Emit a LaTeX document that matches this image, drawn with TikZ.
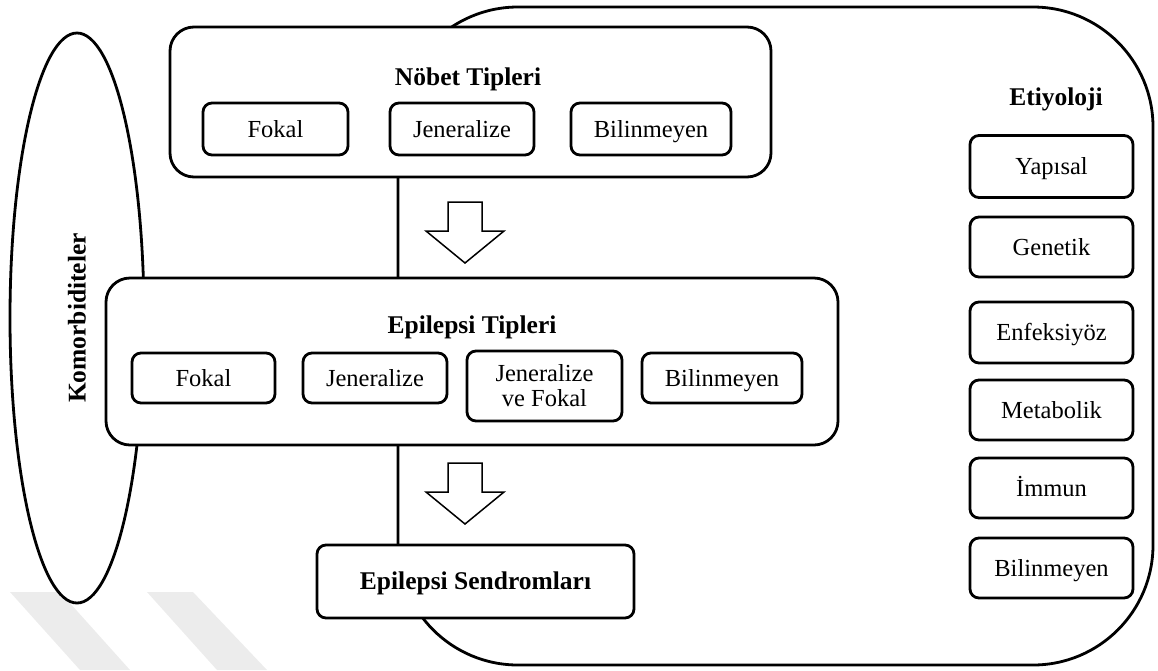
\documentclass[tikz,border=0pt]{standalone}
\usepackage{fontspec}
\setmainfont{Liberation Serif}
\usetikzlibrary{shapes.geometric}
\newcommand{\bodysize}{\fontsize{24.5}{25}\selectfont}
\newcommand{\ttlsize}{\fontsize{25.5}{27}\selectfont}
\begin{document}
\begin{tikzpicture}[x=1pt,y=-1pt,
  inbox/.style={draw, line width=2.8pt, rounded corners=9pt, fill=white, inner sep=0pt, align=center, font=\bodysize, text height=16pt, text depth=0pt},
  twobox/.style={draw, line width=2.8pt, rounded corners=9pt, fill=white, inner sep=0pt, align=center, font=\bodysize},
  groupbox/.style={draw, line width=2.8pt, rounded corners=24pt, fill=white, inner sep=0pt},
  ttl/.style={font=\ttlsize\bfseries, inner sep=0pt, text height=17pt, text depth=0pt},
  faintband/.style={fill=gray!15, draw=none},
  blockarrow/.pic={\draw[line width=1.5pt, fill=white, line join=miter]
     (-17,0) -- (17,0) -- (17,29) -- (39,29) -- (0,61) -- (-39,29) -- (-17,29) -- cycle;}
]
\useasboundingbox (0,0) rectangle (1158,670);
% faint marks
\fill[faintband] (10,592) -- (60,592) -- (130,670) -- (80,670) -- cycle;
\fill[faintband] (147,592) -- (193,592) -- (267,670) -- (217,670) -- cycle;
% large rounded frame (Etiyoloji)
\node[draw, line width=2.8pt, rounded corners=120pt, minimum width=755pt, minimum height=658pt, inner sep=0pt] (frame) at (775.5,336) {};
% ellipse
\node[draw, ellipse, line width=2.8pt, minimum width=134pt, minimum height=570pt, inner sep=0pt] (komor) at (77,318) {};
\node[ttl, rotate=90] (komortxt) at (77,318) {Komorbiditeler};
% Nöbet Tipleri group
\node[groupbox, minimum width=601pt, minimum height=150pt] (nobet) at (470.5,102) {};
\node[ttl] (nobetttl) at (468,77) {Nöbet Tipleri};
\node[inbox, minimum width=145pt, minimum height=52pt] (n1) at (275.5,129) {Fokal};
\node[inbox, minimum width=144pt, minimum height=52pt] (n2) at (462,129) {Jeneralize};
\node[inbox, minimum width=160pt, minimum height=52pt] (n3) at (651,129) {Bilinmeyen};
% Epilepsi Tipleri group
\node[groupbox, minimum width=732pt, minimum height=167pt] (epi) at (472,361.5) {};
\node[ttl] (epittl) at (472,325) {Epilepsi Tipleri};
\node[inbox, minimum width=143pt, minimum height=50pt] (e1) at (203.5,378) {Fokal};
\node[inbox, minimum width=144pt, minimum height=50pt] (e2) at (375,378) {Jeneralize};
\node[twobox, minimum width=155pt, minimum height=70pt] (e3) at (544.5,386) {Jeneralize\\ve Fokal};
\node[inbox, minimum width=160pt, minimum height=50pt] (e4) at (722,378) {Bilinmeyen};
% Sendromlar
\node[inbox, minimum width=317pt, minimum height=73pt, font=\ttlsize\bfseries] (sendrom) at (475.5,581.5) {Epilepsi Sendromları};
% block arrows
\pic at (465,202) {blockarrow};
\pic at (465,463) {blockarrow};
% Etiyoloji column
\node[ttl] (etittl) at (1056,97) {Etiyoloji};
\node[inbox, minimum width=163pt, minimum height=62pt] (r1) at (1051.5,166.5) {Yapısal};
\node[inbox, minimum width=163pt, minimum height=60pt] (r2) at (1051.5,247) {Genetik};
\node[inbox, minimum width=163pt, minimum height=61pt] (r3) at (1051.5,332.5) {Enfeksiyöz};
\node[inbox, minimum width=163pt, minimum height=60pt] (r4) at (1051.5,410) {Metabolik};
\node[inbox, minimum width=163pt, minimum height=60pt] (r5) at (1051.5,488) {İmmun};
\node[inbox, minimum width=163pt, minimum height=60pt] (r6) at (1051.5,568) {Bilinmeyen};
\end{tikzpicture}
\end{document}
